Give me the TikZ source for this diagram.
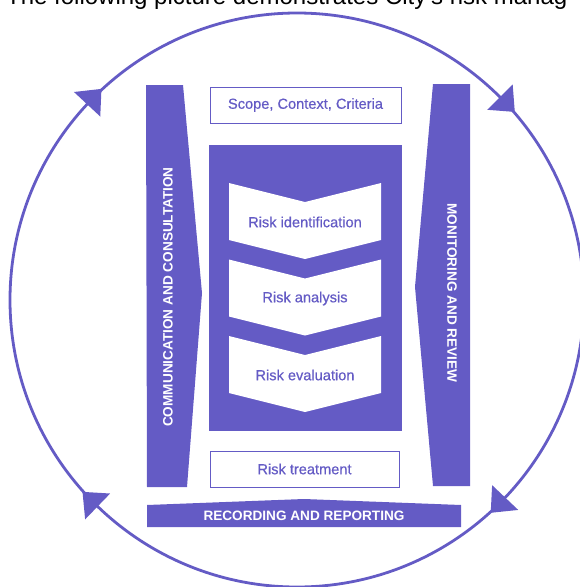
\documentclass[tikz,border=0pt]{standalone}
\usepackage{fontspec}
\setmainfont{Liberation Sans}
\newfontfamily\medfont[FakeBold=0.5]{Liberation Sans}
\definecolor{pur}{RGB}{100,91,197}
\begin{document}
\begin{tikzpicture}[x=1pt,y=1pt,
  boxtext/.style={text=pur, font=\medfont\fontsize{14.6}{16}\selectfont},
  bartext/.style={text=white, font=\fontsize{13.6}{15}\selectfont\bfseries, inner sep=0pt},
  framebox/.style={draw=pur, line width=1pt, fill=white, inner sep=0pt, minimum height=36pt, boxtext},
  purshape/.style={fill=pur},
  chevshape/.style={fill=white},
  ring/.style={draw=pur, line width=2.8pt},
  ringtip/.style={fill=pur}]
\useasboundingbox (0,0) rectangle (580,-587);
% title (cut at the top of the picture)
\node[anchor=base west, font=\fontsize{24}{28}\selectfont, text=black, inner sep=0pt] (title) at (6,-4) {The following picture demonstrates City’s risk manag};
% outer cycle
\draw[ring] (297,-300) circle[radius=287];
\foreach \a in {137,45,-43.5,-134}{
  \fill[ringtip, shift={(297,-300)}, rotate=\a] (287,-21) -- (269,0) -- (305,0) -- cycle;
}
% side bars
\fill[purshape] (146,-85) -- (183,-85) -- (202,-293) -- (187,-487) -- (147,-487) -- cycle;
\node[bartext, rotate=90] (comm) at (168,-297) {COMMUNICATION AND CONSULTATION};
\fill[purshape] (433,-84) -- (470,-84) -- (470,-486) -- (433,-486) -- (415,-287) -- cycle;
\node[bartext, rotate=-90] (mon) at (452,-293) {MONITORING AND REVIEW};
% bottom bar
\fill[purshape] (147,-505) -- (304,-499) -- (461,-505) -- (461,-527) -- (147,-527) -- cycle;
\node[bartext] (rec) at (304,-515.5) {RECORDING AND REPORTING};
% scope box
\node[framebox, minimum width=191pt] (scope) at (305.5,-105) {Scope, Context, Criteria};
% central block
\fill[purshape] (209,-145) rectangle (402,-431);
\foreach \t/\nm/\txt in {183/ident/Risk identification, 259.5/anal/Risk analysis, 336/eval/Risk evaluation}{
  \fill[chevshape] (229,-\t) -- (305,-\t-19) -- (381,-\t) -- (381,-\t-57) -- (305,-\t-76) -- (229,-\t-57) -- cycle;
  \node[boxtext] (\nm) at (305,-\t-39) {\txt};
}
% treatment box
\node[framebox, minimum width=189pt] (treat) at (304.5,-469) {Risk treatment};
\end{tikzpicture}
\end{document}
